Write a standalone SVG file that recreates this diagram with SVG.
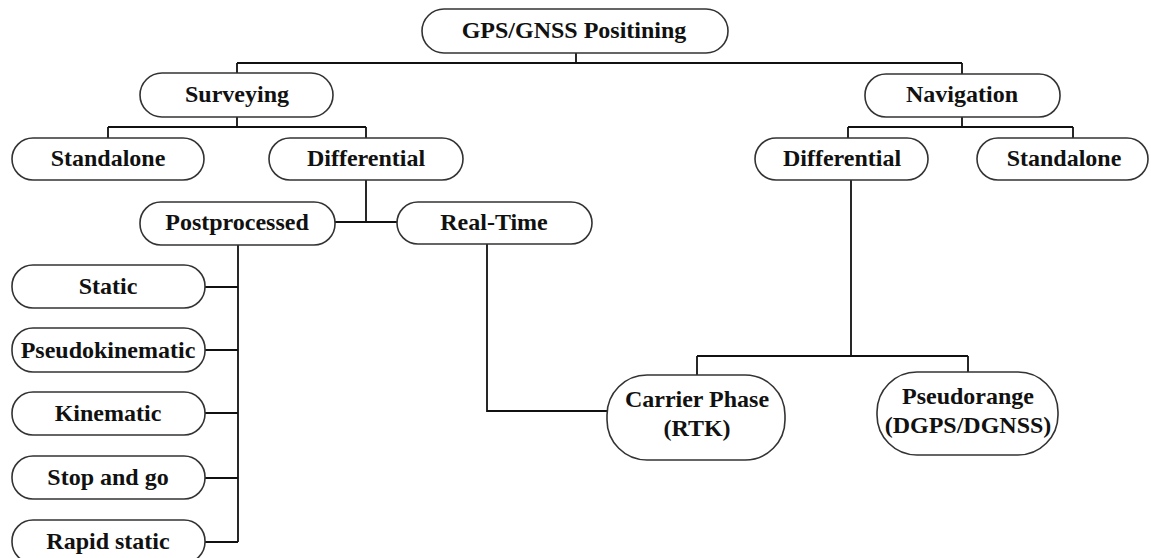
<svg xmlns="http://www.w3.org/2000/svg" width="1151" height="558" viewBox="0 0 1151 558">
<style>
.n rect{fill:#fff;stroke:#333;stroke-width:1.6}
.n text{font-family:"Liberation Serif","Times New Roman",serif;font-weight:bold;font-size:24px;fill:#111;text-anchor:middle}
#connectors path{fill:none;stroke:#111;stroke-width:1.8}
</style>
<rect width="1151" height="558" fill="#fff"/>
<g id="connectors">
<path d="M576,53V63M237,63H962M237,63V73M962,63V74"/>
<path d="M237,117V127M108,127H366M108,127V138M366,127V138"/>
<path d="M366,180V222M335,222H397"/>
<path d="M238,245V542M205,287H238M205,350H238M205,413H238M205,478H238M205,542H238"/>
<path d="M487,244V411H607"/>
<path d="M962,117V127M848,127H1073M848,127V138M1073,127V138"/>
<path d="M851,180V356M697,356H968M697,356V375M968,356V372"/>
</g>
<g id="gps" class="n"><rect x="422" y="9" width="306" height="44" rx="22"/><text x="574" y="38">GPS/GNSS Positining</text></g>
<g id="surveying" class="n"><rect x="140" y="73" width="193" height="44" rx="22"/><text x="237" y="102">Surveying</text></g>
<g id="standalone-s" class="n"><rect x="12" y="138" width="192" height="42" rx="21"/><text x="108" y="166">Standalone</text></g>
<g id="differential-s" class="n"><rect x="269" y="138" width="194" height="42" rx="21"/><text x="366" y="166">Differential</text></g>
<g id="postprocessed" class="n"><rect x="140" y="202" width="195" height="43" rx="21"/><text x="237" y="230">Postprocessed</text></g>
<g id="realtime" class="n"><rect x="397" y="202" width="195" height="42" rx="21"/><text x="494" y="230">Real-Time</text></g>
<g id="navigation" class="n"><rect x="865" y="74" width="195" height="43" rx="21"/><text x="962" y="102">Navigation</text></g>
<g id="differential-n" class="n"><rect x="755" y="138" width="173" height="42" rx="21"/><text x="842" y="166">Differential</text></g>
<g id="standalone-n" class="n"><rect x="977" y="138" width="171" height="42" rx="21"/><text x="1064" y="166">Standalone</text></g>
<g id="static" class="n"><rect x="12" y="265" width="193" height="43" rx="21"/><text x="108" y="294">Static</text></g>
<g id="pseudokinematic" class="n"><rect x="12" y="328" width="193" height="44" rx="21"/><text x="108" y="358">Pseudokinematic</text></g>
<g id="kinematic" class="n"><rect x="12" y="392" width="193" height="43" rx="21"/><text x="108" y="421">Kinematic</text></g>
<g id="stopandgo" class="n"><rect x="12" y="456" width="193" height="43" rx="21"/><text x="108" y="485">Stop and go</text></g>
<g id="rapidstatic" class="n"><rect x="12" y="520" width="193" height="43" rx="21"/><text x="108" y="549">Rapid static</text></g>
<g id="carrier" class="n"><rect x="607" y="375" width="178" height="85" rx="40"/><text x="697" y="407">Carrier Phase</text><text x="697" y="436">(RTK)</text></g>
<g id="pseudorange" class="n"><rect x="877" y="372" width="181" height="83" rx="40"/><text x="968" y="404">Pseudorange</text><text x="968" y="433">(DGPS/DGNSS)</text></g>
</svg>
